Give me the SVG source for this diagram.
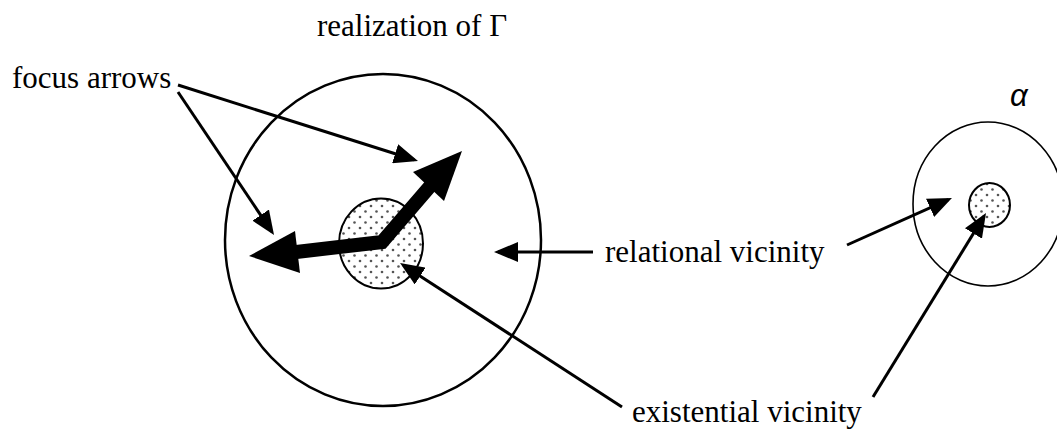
<svg xmlns="http://www.w3.org/2000/svg" width="1057" height="430" viewBox="0 0 1057 430">
<style>
.lbl{font-family:"Liberation Serif","Times New Roman",serif;font-size:31px;fill:#000}
.ring{fill:none;stroke:#000}
.core{fill:url(#stip);stroke:#000;stroke-width:2}
.thin{fill:none;stroke:#000;stroke-width:3}
.thick{fill:none;stroke:#000;stroke-width:14;stroke-linejoin:miter}
.head{fill:#000;stroke:none}
</style>
<defs>
<pattern id="stip" width="11" height="11" patternUnits="userSpaceOnUse">
<rect width="11" height="11" fill="#fff"/>
<circle cx="2.5" cy="2.5" r="1.3" fill="#555"/>
<circle cx="8" cy="8" r="1.3" fill="#555"/>
</pattern>
<marker id="ah" markerUnits="userSpaceOnUse" viewBox="0 0 24 20" markerWidth="24" markerHeight="20" refX="20" refY="10" orient="auto">
<path d="M0,0 L24,10 L0,20 z" fill="#000"/>
</marker>
</defs>
<g id="realization">
<ellipse class="ring" cx="383" cy="240" rx="158" ry="166" stroke-width="2.5"/>
<ellipse class="core" cx="381" cy="243.5" rx="42" ry="45"/>
</g>
<g id="alpha">
<ellipse class="ring" cx="988" cy="204" rx="75" ry="82" stroke-width="1.6"/>
<ellipse class="core" cx="989.5" cy="205" rx="20.5" ry="22" stroke-width="1.6"/>
<text x="1010" y="106" font-family="'Liberation Sans',Arial,sans-serif" font-style="italic" font-size="31">α</text>
</g>
<g id="labels">
<text class="lbl" x="317" y="36">realization of Γ</text>
<text class="lbl" x="12" y="88">focus arrows</text>
<text class="lbl" x="605" y="262">relational vicinity</text>
<text class="lbl" x="632" y="422">existential vicinity</text>
</g>
<g id="connectors">
<path class="thick" d="M292,252.5 L382,242 L432,184"/>
<polygon class="head" points="462,151 413,172 444,201"/>
<polygon class="head" points="249,256 295,231 300,273"/>
<path class="thin" d="M178,85 L414.2,159.8" marker-end="url(#ah)"/>
<path class="thin" d="M178,92 L271.8,231.7" marker-end="url(#ah)"/>
<path class="thin" d="M593,252 L498,252" marker-end="url(#ah)"/>
<path class="thin" d="M622,407 L403.4,265.2" marker-end="url(#ah)"/>
<path class="thin" d="M847,245 L948.3,199.6" marker-end="url(#ah)"/>
<path class="thin" d="M873,397 L983.9,216.4" marker-end="url(#ah)"/>
</g>
</svg>
